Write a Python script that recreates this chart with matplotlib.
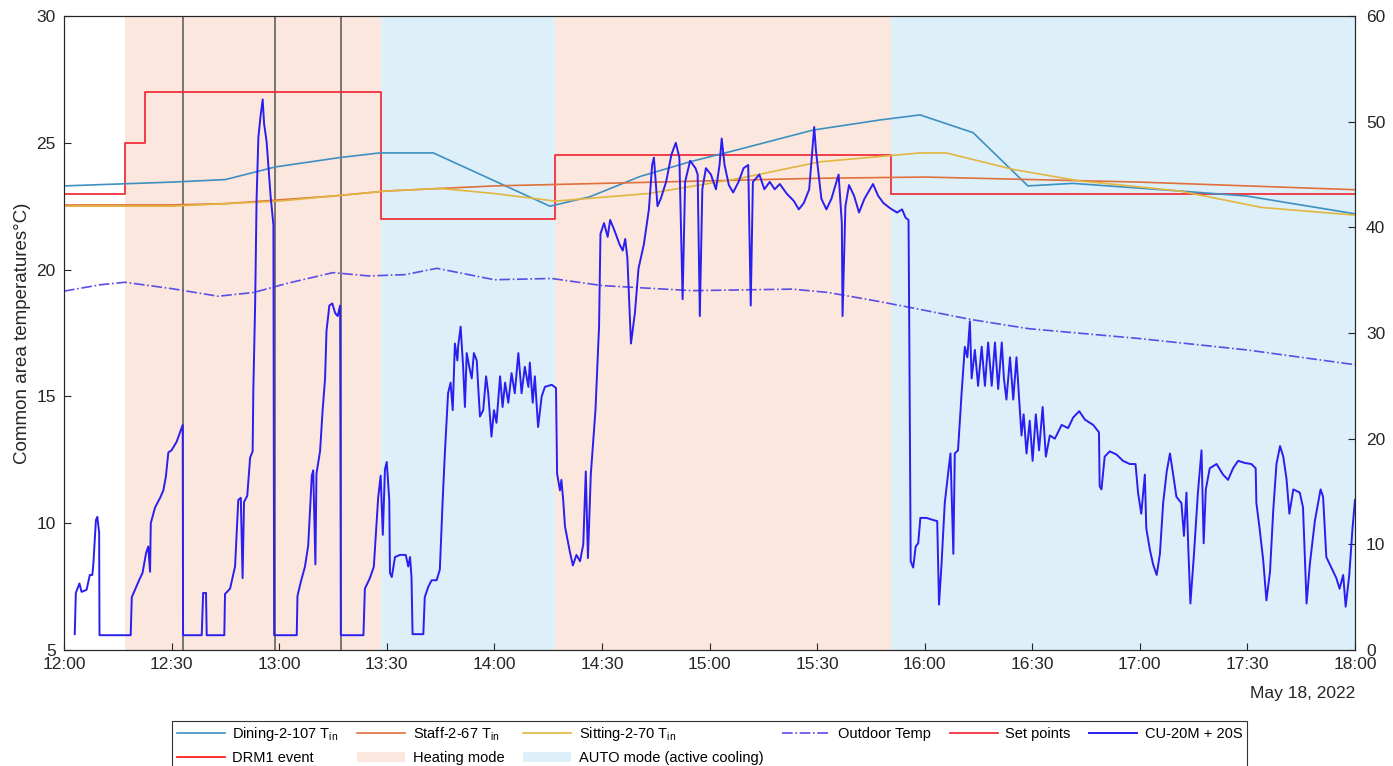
import pandas as pd
import numpy as np
import matplotlib
matplotlib.use("Agg")
import matplotlib.pyplot as plt
import matplotlib.dates as mdates
from matplotlib.lines import Line2D
from matplotlib.patches import Patch

plt.rcParams['font.family'] = ['Liberation Sans', 'DejaVu Sans']
plt.rcParams['mathtext.fontset'] = 'custom'
plt.rcParams['mathtext.rm'] = 'Liberation Sans'
plt.rcParams['mathtext.it'] = 'Liberation Sans'

base = pd.Timestamp("2022-05-18 12:00")

# room temperatures (minutes after 12:00, degC)
dining_min = [0, 30, 45, 59, 77, 88, 103, 135.5, 146.6, 160.6, 174.5, 188.5, 208.8, 227.5, 238.7, 253.5, 268.8, 281.3, 311, 329.8, 360]
dining_val = [23.3, 23.45, 23.55, 24.05, 24.42, 24.6, 24.6, 22.5, 22.87, 23.67, 24.25, 24.75, 25.5, 25.9, 26.1, 25.4, 23.3, 23.4, 23.1, 22.9, 22.2]

staff_min = [0, 30, 45, 60, 75, 90, 120, 150, 180, 210, 240, 270, 300, 330, 360]
staff_val = [22.55, 22.55, 22.6, 22.75, 22.9, 23.1, 23.3, 23.4, 23.5, 23.6, 23.65, 23.55, 23.45, 23.3, 23.15]

sitting_min = [0, 30, 60, 90, 105, 120, 137, 163, 188.5, 210.8, 238.7, 246, 264.7, 283, 311, 334, 360]
sitting_val = [22.5, 22.5, 22.7, 23.1, 23.2, 23.0, 22.7, 23.0, 23.6, 24.25, 24.6, 24.6, 23.95, 23.5, 23.1, 22.45, 22.15]

outdoor_min = [0, 10, 17, 30, 43, 53, 62, 75, 85, 95, 104, 120, 136, 150, 175, 203, 213, 227, 238, 253, 269, 300, 330, 360]
outdoor_val = [19.15, 19.4, 19.5, 19.25, 18.95, 19.1, 19.45, 19.88, 19.75, 19.8, 20.05, 19.6, 19.65, 19.37, 19.17, 19.23, 19.1, 18.75, 18.45, 18.03, 17.67, 17.28, 16.83, 16.25]

# set point steps
set_min = [0, 17, 22.5, 88.5, 137, 230.5, 360]
set_val = [23, 25, 27, 22, 24.5, 23, 23]

# operating modes
heat_start = [17, 137]
heat_end = [88.5, 230.5]
auto_start = [88.5, 230.5]
auto_end = [137, 360]

# DRM1 event times
drm_min = [33.1, 58.8, 77.2]

# CU-20M + 20S (right axis)
cu_min = [3.0, 3.3, 4.3, 4.9, 6.3, 7.2, 7.9, 8.2, 8.9, 9.3, 9.8, 9.9, 18.6, 18.9, 19.8, 21.2, 21.9, 22.9, 23.5, 24.0,
          24.2, 25.4, 26.8, 27.7, 28.4, 29.1, 30.0, 31.4, 33.1, 33.2, 38.4, 38.8, 39.6, 39.8, 44.7, 44.9, 46.3, 47.7, 48.6, 49.3,
          49.8, 50.2, 51.1, 51.9, 52.6, 52.8, 53.3, 53.7, 54.2, 54.8, 55.4, 55.8, 56.5, 57.1, 57.6, 58.4, 58.6, 64.9, 65.1, 66.0,
          67.2, 68.1, 69.1, 69.5, 70.1, 70.4, 71.4, 72.1, 72.8, 73.2, 74.0, 74.8, 75.6, 76.3, 77.0, 77.2, 83.5, 83.9, 85.3, 86.4,
          87.6, 88.3, 88.9, 89.5, 90.0, 90.7, 90.9, 91.4, 92.3, 93.7, 95.3, 96.0, 96.5, 96.9, 97.2, 100.2, 100.6, 101.6, 102.5, 103.9,
          104.8, 105.6, 106.2, 107.1, 107.8, 108.4, 109.0, 109.7, 109.9, 110.6, 111.3, 111.8, 112.3, 113.0, 113.7, 114.3, 115.1, 115.5, 116.0, 116.9,
          117.7, 118.3, 119.2, 119.9, 120.6, 121.6, 122.3, 123.0, 123.9, 124.8, 125.7, 126.7, 127.6, 128.5, 129.5, 129.9, 130.7, 131.3, 132.2, 133.2,
          134.1, 136.0, 137.2, 137.5, 138.3, 138.7, 139.2, 139.7, 141.0, 141.9, 142.9, 143.9, 144.8, 145.5, 146.1, 146.9, 148.2, 149.2, 149.6, 150.6,
          151.6, 152.3, 153.5, 154.9, 155.8, 156.5, 157.1, 158.1, 159.2, 160.2, 161.7, 163.1, 164.0, 164.5, 165.5, 166.4, 167.9, 169.4, 170.6, 171.6,
          172.5, 173.2, 174.6, 176.1, 176.7, 177.3, 178.0, 179.0, 180.4, 181.8, 182.8, 183.4, 184.2, 185.4, 186.6, 188.1, 189.5, 190.8, 191.5, 192.1,
          193.9, 195.3, 196.8, 198.2, 199.6, 201.5, 203.5, 204.9, 206.3, 207.8, 208.8, 209.2, 209.7, 211.2, 212.6, 214.0, 216.0, 216.9, 217.1, 217.9,
          218.9, 220.3, 221.7, 223.2, 225.6, 227.0, 228.5, 230.4, 232.3, 233.7, 234.7, 235.5, 235.7, 236.1, 236.8, 237.5, 238.2, 238.8, 240.5, 242.4,
          243.5, 244.0, 244.7, 245.6, 246.6, 247.2, 248.0, 248.4, 249.3, 250.3, 251.2, 251.9, 252.6, 253.1, 254.0, 254.9, 255.9, 256.8, 257.7, 258.7,
          259.6, 260.5, 261.5, 262.1, 262.8, 263.8, 264.7, 265.6, 266.5, 267.0, 267.6, 268.4, 269.3, 270.1, 271.0, 271.9, 272.9, 273.8, 274.9, 276.3,
          278.2, 280.0, 281.4, 283.1, 284.7, 287.0, 288.6, 288.8, 289.3, 290.2, 291.6, 293.5, 295.3, 297.2, 298.8, 299.5, 300.4, 301.4, 301.8, 302.8,
          303.7, 304.7, 305.6, 306.5, 307.5, 308.4, 309.3, 310.2, 311.6, 312.3, 313.0, 313.5, 314.1, 315.1, 316.2, 317.2, 317.8, 318.4, 319.5, 321.4,
          323.2, 324.6, 326.0, 327.4, 329.3, 331.1, 332.3, 332.5, 333.4, 334.4, 335.3, 336.3, 337.2, 338.1, 339.1, 340.0, 340.9, 341.7, 342.8, 344.6,
          345.5, 346.5, 347.4, 348.8, 350.4, 351.1, 352.0, 353.4, 354.8, 355.7, 356.7, 357.4, 358.4, 359.3, 360.0]
cu_val = [1.5, 5.4, 6.3, 5.5, 5.7, 7.1, 7.1, 8.2, 12.3, 12.6, 11.1, 1.4, 1.4, 5.0, 5.7, 6.8, 7.3, 9.2, 9.8, 7.4,
          12.0, 13.5, 14.4, 15.1, 16.4, 18.7, 18.9, 19.7, 21.3, 1.4, 1.4, 5.4, 5.4, 1.4, 1.4, 5.3, 5.8, 7.9, 14.2, 14.4,
          6.8, 14.0, 14.6, 18.2, 18.8, 24.7, 32.7, 42.6, 48.5, 50.5, 52.1, 49.8, 48.1, 45.3, 43.0, 40.2, 1.4, 1.4, 5.1, 6.4,
          7.9, 9.9, 16.5, 17.0, 8.1, 16.7, 18.8, 22.6, 25.7, 30.2, 32.6, 32.8, 31.9, 31.6, 32.6, 1.4, 1.4, 5.8, 6.8, 7.9,
          14.4, 16.5, 10.9, 17.1, 17.8, 14.2, 7.3, 6.9, 8.8, 9.0, 9.0, 7.9, 8.8, 6.9, 1.5, 1.5, 5.0, 6.0, 6.6, 6.6,
          7.6, 14.2, 18.6, 24.3, 25.3, 22.7, 29.0, 27.4, 28.7, 30.6, 26.8, 23.0, 28.1, 26.8, 25.7, 28.1, 27.4, 24.9, 22.1, 22.7,
          25.9, 24.3, 20.2, 22.7, 21.5, 25.9, 23.0, 25.3, 23.4, 26.2, 24.3, 28.1, 24.3, 26.8, 24.9, 27.2, 23.4, 25.9, 21.1, 24.0,
          24.9, 25.1, 24.8, 16.7, 15.1, 16.1, 14.2, 11.7, 9.4, 8.0, 9.0, 8.4, 10.0, 16.9, 8.7, 16.6, 22.7, 30.6, 39.4, 40.4,
          39.1, 40.7, 39.7, 38.4, 37.8, 38.9, 37.1, 29.0, 31.9, 36.1, 38.4, 41.7, 45.9, 46.6, 42.0, 42.7, 44.3, 46.9, 48.0, 46.6,
          33.2, 44.3, 46.3, 45.6, 45.0, 31.6, 43.6, 45.6, 45.0, 43.6, 45.9, 48.4, 45.9, 44.0, 43.3, 44.3, 45.6, 45.9, 32.6, 44.3,
          45.0, 43.6, 44.3, 43.6, 44.1, 43.2, 42.5, 41.7, 42.3, 43.6, 47.9, 49.5, 47.2, 42.7, 41.7, 42.7, 45.0, 40.4, 31.6, 42.0,
          44.0, 43.0, 41.4, 42.7, 44.1, 43.0, 42.3, 41.8, 41.4, 41.7, 40.9, 40.7, 30.6, 8.4, 7.8, 9.8, 10.1, 12.5, 12.5, 12.3,
          12.2, 4.3, 8.1, 13.9, 16.9, 18.6, 9.1, 18.6, 18.9, 24.3, 28.7, 27.7, 31.1, 25.7, 28.4, 25.0, 28.7, 25.0, 29.1, 25.0,
          29.1, 24.7, 29.1, 25.7, 23.7, 27.7, 23.7, 27.7, 23.0, 20.3, 22.3, 18.6, 21.7, 17.9, 22.3, 18.9, 23.0, 18.3, 20.3, 20.0,
          21.3, 21.0, 22.0, 22.6, 21.8, 21.3, 20.6, 15.5, 15.2, 18.3, 18.8, 18.5, 17.9, 17.6, 17.6, 14.9, 12.9, 16.6, 11.5, 9.5,
          8.1, 7.1, 9.1, 13.9, 16.9, 18.6, 16.6, 14.5, 13.9, 10.8, 14.9, 9.8, 4.4, 9.1, 14.9, 18.9, 10.1, 15.2, 17.2, 17.6,
          16.6, 16.1, 17.2, 17.9, 17.7, 17.6, 17.2, 13.9, 11.5, 8.5, 4.7, 7.4, 13.2, 17.6, 19.3, 18.3, 16.2, 12.9, 15.2, 14.9,
          13.5, 4.4, 8.1, 12.2, 15.2, 14.5, 8.8, 7.8, 6.8, 5.8, 7.1, 4.1, 7.1, 11.5, 14.2]


def tt(m):
    return base + pd.to_timedelta(np.asarray(m, dtype=float), unit="m")


fig = plt.figure(figsize=(13.93, 7.66), dpi=100)
ax = fig.add_axes([64 / 1393, 116 / 766, 1291 / 1393, 634 / 766])
ax2 = ax.twinx()

heat_c = '#fce7de'
auto_c = '#ddeff8'
for s, e in zip(heat_start, heat_end):
    ax.axvspan(tt(s), tt(e), color=heat_c, lw=0, zorder=0)
for s, e in zip(auto_start, auto_end):
    ax.axvspan(tt(s), tt(e), color=auto_c, lw=0, zorder=0)

for m in drm_min:
    ax.axvline(tt(m), color='#555555', lw=1.1, zorder=1)

h_set, = ax.step(tt(set_min), set_val, where='post', color='#f0303c', lw=1.3, label='Set points', zorder=2)
h_din, = ax.plot(tt(dining_min), dining_val, color='#3d90c2', lw=1.2, label='Dining-2-107 T$_{\\mathrm{in}}$', zorder=3)
h_staff, = ax.plot(tt(staff_min), staff_val, color='#e0703c', lw=1.2, label='Staff-2-67 T$_{\\mathrm{in}}$', zorder=3)
h_sit, = ax.plot(tt(sitting_min), sitting_val, color='#e2b640', lw=1.2, label='Sitting-2-70 T$_{\\mathrm{in}}$', zorder=3)
h_out, = ax.plot(tt(outdoor_min), outdoor_val, color='#5a4ee6', lw=1.2, ls='-.', label='Outdoor Temp', zorder=3)

h_cu, = ax2.plot(tt(cu_min), cu_val, color='#2a1ef0', lw=1.4, label='CU-20M + 20S')

h_drm = Line2D([], [], color='#ff2020', lw=1.3, label='DRM1 event')
h_heat = Patch(facecolor=heat_c, edgecolor='none', label='Heating mode')
h_auto = Patch(facecolor=auto_c, edgecolor='none', label='AUTO mode (active cooling)')

ax.set_xlim(tt(0), tt(360))
ax.set_ylim(5, 30)
ax.set_yticks([5, 10, 15, 20, 25, 30])
ax2.set_ylim(0, 60)
ax2.set_yticks([0, 10, 20, 30, 40, 50, 60])

ax.xaxis.set_major_locator(mdates.MinuteLocator(byminute=[0, 30]))
ax.xaxis.set_major_formatter(mdates.DateFormatter('%H:%M'))

tc = '#262626'
for a in (ax, ax2):
    a.tick_params(direction='in', length=5, width=0.8, labelsize=12.5, colors=tc, labelcolor=tc)
    for sp in a.spines.values():
        sp.set_color(tc)
        sp.set_linewidth(0.8)
ax.tick_params(axis='y', pad=6)
ax2.tick_params(axis='y', pad=8)
ax.tick_params(axis='x', pad=5)

ax.set_ylabel('Common area temperatures°C)', fontsize=13.5, color=tc, labelpad=4)
ax.text(1.0, -0.056, 'May 18, 2022', transform=ax.transAxes, ha='right', va='top',
        fontsize=12.5, color=tc)

handles = [h_din, h_drm, h_staff, h_heat, h_sit, h_auto, h_out, h_set, h_cu]
leg = ax.legend(handles=handles, loc='upper center', bbox_to_anchor=(0.5, -0.112), ncol=6,
                fontsize=10.5, handlelength=3.3, handletextpad=0.5, columnspacing=1.3,
                labelspacing=0.55, borderpad=0.3, borderaxespad=0, frameon=True,
                fancybox=False, framealpha=1)
leg.get_frame().set_edgecolor('#333333')
leg.get_frame().set_linewidth(0.8)

fig.savefig('out.png', dpi=100)
